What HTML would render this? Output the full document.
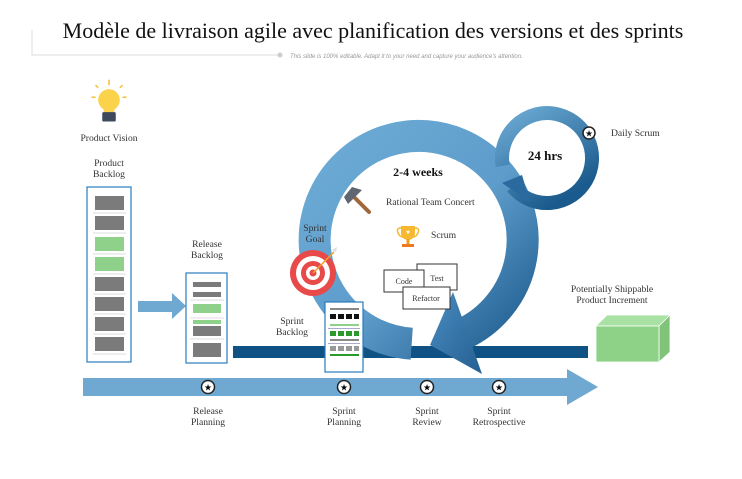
<!DOCTYPE html>
<html><head><meta charset="utf-8"><style>
body{margin:0;background:#fff;}
svg{display:block;}
.s{font-family:"Liberation Serif",serif;fill:#333;font-size:9.6px;text-anchor:middle;}
</style></head><body>
<svg width="742" height="479" viewBox="0 0 742 479" xmlns="http://www.w3.org/2000/svg">
<defs>
<linearGradient id="g1" x1="0" y1="0" x2="1" y2="1"><stop offset="0" stop-color="#6eacd6"/><stop offset="0.55" stop-color="#5d9ccb"/><stop offset="1" stop-color="#1e5c8e"/></linearGradient>
<linearGradient id="g2" x1="0" y1="0" x2="0.6" y2="1"><stop offset="0" stop-color="#6eacd6"/><stop offset="1" stop-color="#1a5a8c"/></linearGradient>
<linearGradient id="g3" x1="0" y1="0" x2="1" y2="1"><stop offset="0" stop-color="#4a8cc0"/><stop offset="1" stop-color="#245f92"/></linearGradient>
</defs>
<text x="373" y="38" font-family="Liberation Serif,serif" font-size="22" text-anchor="middle" fill="#111">Modèle de livraison agile avec planification des versions et des sprints</text>
<polyline points="32,30 32,55 278,55" fill="none" stroke="#ddd" stroke-width="1"/>
<circle cx="280" cy="55" r="2.5" fill="#ccc"/>
<text x="290" y="58" font-family="Liberation Sans,sans-serif" font-size="6" font-style="italic" fill="#999">This slide is 100% editable. Adapt it to your need and capture your audience's attention.</text>

<rect x="233" y="346" width="355" height="12" fill="#0f5283"/>

<path d="M 411.7 343.7 A 104 104 0 1 1 463 334" fill="none" stroke="url(#g1)" stroke-width="32"/>
<polygon points="453,292 482,374 430,345" fill="url(#g3)"/>

<path d="M 502.7 165.8 A 45 45 0 1 1 512.5 186.9" fill="none" stroke="url(#g2)" stroke-width="14"/>
<polygon points="502,183 522,175 530,202" fill="#2a6a9e"/>
<text x="545" y="160" font-family="Liberation Serif,serif" font-size="13" font-weight="bold" text-anchor="middle" fill="#111">24 hrs</text>
<circle cx="589" cy="133" r="6" fill="#fff" stroke="#222" stroke-width="1.5"/>
<text x="589" y="136.5" font-size="9" text-anchor="middle" fill="#111">★</text>
<text x="611" y="136" class="s" style="text-anchor:start">Daily Scrum</text>

<text x="418" y="176" font-family="Liberation Serif,serif" font-size="12" font-weight="bold" text-anchor="middle" fill="#111">2-4 weeks</text>
<g transform="translate(357,200)">
<line x1="-2" y1="-2" x2="12" y2="12" stroke="#a0683a" stroke-width="4" stroke-linecap="round"/>
<polygon points="-13,-3 -5,-13 5,-10 -1,-4 -9,4" fill="#5f6670"/>
</g>
<text x="386" y="205" class="s" style="text-anchor:start">Rational Team Concert</text>
<g transform="translate(408,236)">
<path d="M-7,-10 H7 V-3 A7,7 0 0 1 -7,-3 Z" fill="#f5b82e"/>
<path d="M-7,-8 Q-12,-8 -10,-3 Q-8,1 -5,1 M7,-8 Q12,-8 10,-3 Q8,1 5,1" fill="none" stroke="#f5b82e" stroke-width="1.5"/>
<rect x="-1.5" y="3" width="3" height="5" fill="#f0a020"/>
<rect x="-6" y="8" width="12" height="3" fill="#f07a20"/>
<text x="0" y="-2" font-size="6" text-anchor="middle" fill="#fff">★</text>
</g>
<text x="431" y="238" class="s" style="text-anchor:start">Scrum</text>
<rect x="417" y="264" width="40" height="26" fill="#fff" stroke="#333"/>
<text x="437" y="281" class="s" style="font-size:8px">Test</text>
<rect x="384" y="270" width="40" height="22" fill="#fff" stroke="#333"/>
<text x="404" y="284" class="s" style="font-size:8px">Code</text>
<rect x="403" y="287" width="47" height="22" fill="#fff" stroke="#333"/>
<text x="426" y="301" class="s" style="font-size:8px">Refactor</text>

<text x="315" y="231" class="s">Sprint</text>
<text x="315" y="242" class="s">Goal</text>
<circle cx="313" cy="273" r="23" fill="#e84a4a"/>
<circle cx="313" cy="273" r="17" fill="#fff"/>
<circle cx="313" cy="273" r="12" fill="#e84a4a"/>
<circle cx="313" cy="273" r="7" fill="#fff"/>
<circle cx="313" cy="273" r="3.5" fill="#e84a4a"/>
<line x1="313" y1="273" x2="334" y2="252" stroke="#f2a02e" stroke-width="1.5"/>
<polygon points="332,250 337,247 336,252" fill="#ddd"/>

<g transform="translate(109,104) scale(1.35)">
<line x1="0" y1="-18" x2="0" y2="-14" stroke="#f6c440" stroke-width="1.2"/>
<line x1="-13" y1="-5" x2="-10" y2="-5" stroke="#f6c440" stroke-width="1.2"/>
<line x1="10" y1="-5" x2="13" y2="-5" stroke="#f6c440" stroke-width="1.2"/>
<line x1="-10" y1="-14" x2="-8" y2="-12" stroke="#f6c440" stroke-width="1.2"/>
<line x1="10" y1="-14" x2="8" y2="-12" stroke="#f6c440" stroke-width="1.2"/>
<circle cx="0" cy="-3" r="8" fill="#fbd34a"/>
<rect x="-4" y="3" width="8" height="4" fill="#fbd34a"/>
<rect x="-5" y="6" width="10" height="7" rx="1" fill="#3d4a5c"/>
</g>
<text x="109" y="141" class="s">Product Vision</text>
<text x="109" y="166" class="s">Product</text>
<text x="109" y="177" class="s">Backlog</text>
<rect x="87" y="187" width="44" height="175" fill="#fff" stroke="#2a7bbf" stroke-width="1.2"/>
<g fill="#7b7b7b">
<rect x="95" y="196" width="29" height="14"/><rect x="95" y="216" width="29" height="14"/>
<rect x="95" y="237" width="29" height="14" fill="#8fd18a"/><rect x="95" y="257" width="29" height="14" fill="#8fd18a"/>
<rect x="95" y="277" width="29" height="14"/><rect x="95" y="297" width="29" height="14"/>
<rect x="95" y="317" width="29" height="14"/><rect x="95" y="337" width="29" height="14"/>
</g>
<g stroke="#ddd" stroke-width="1">
<line x1="93" y1="213" x2="126" y2="213"/><line x1="93" y1="233" x2="126" y2="233"/><line x1="93" y1="254" x2="126" y2="254"/><line x1="93" y1="274" x2="126" y2="274"/><line x1="93" y1="294" x2="126" y2="294"/><line x1="93" y1="314" x2="126" y2="314"/><line x1="93" y1="334" x2="126" y2="334"/><line x1="93" y1="354" x2="126" y2="354"/>
</g>
<polygon points="138,301 172,301 172,293 186,306 172,319 172,312 138,312" fill="#6fa8d0"/>
<text x="207" y="247" class="s">Release</text>
<text x="207" y="258" class="s">Backlog</text>
<rect x="186" y="273" width="41" height="90" fill="#fff" stroke="#2a7bbf" stroke-width="1.2"/>
<g fill="#7b7b7b">
<rect x="193" y="282" width="28" height="5"/><rect x="193" y="292" width="28" height="5"/>
<rect x="193" y="304" width="28" height="9" fill="#8fd18a"/><rect x="193" y="320" width="28" height="4" fill="#8fd18a"/>
<rect x="193" y="326" width="28" height="10"/><rect x="193" y="343" width="28" height="14"/>
</g>
<g stroke="#ddd"><line x1="190" y1="300" x2="224" y2="300"/><line x1="190" y1="318" x2="224" y2="318"/><line x1="190" y1="339" x2="224" y2="339"/></g>
<text x="292" y="324" class="s">Sprint</text>
<text x="292" y="335" class="s">Backlog</text>
<rect x="325" y="302" width="38" height="70" fill="#fff" stroke="#2a7bbf" stroke-width="1.2"/>
<rect x="330" y="308" width="29" height="2" fill="#888"/>
<g fill="#111"><rect x="330" y="314" width="6" height="5"/><rect x="338" y="314" width="6" height="5"/><rect x="346" y="314" width="6" height="5"/><rect x="354" y="314" width="5" height="5"/></g>
<rect x="330" y="324" width="29" height="2" fill="#8fd18a"/>
<rect x="328" y="328" width="32" height="1" fill="#aac"/>
<g fill="#2a9a2a"><rect x="330" y="331" width="6" height="5"/><rect x="338" y="331" width="6" height="5"/><rect x="346" y="331" width="6" height="5"/><rect x="354" y="331" width="5" height="5"/></g>
<rect x="330" y="339" width="29" height="2" fill="#888"/>
<rect x="328" y="343" width="32" height="1" fill="#aac"/>
<g fill="#999"><rect x="330" y="346" width="6" height="5"/><rect x="338" y="346" width="6" height="5"/><rect x="346" y="346" width="6" height="5"/><rect x="354" y="346" width="5" height="5"/></g>
<rect x="330" y="354" width="29" height="2" fill="#2a9a2a"/>

<text x="612" y="292" class="s">Potentially Shippable</text>
<text x="612" y="303" class="s">Product Increment</text>
<polygon points="596,326 607,315 670,315 659,326" fill="#a9e0a3" stroke="#fff" stroke-width="0.8"/>
<polygon points="659,326 670,315 670,352 659,362" fill="#7fc478" stroke="#fff" stroke-width="0.8"/>
<rect x="596" y="326" width="63" height="36" fill="#8ed287" stroke="#fff" stroke-width="0.8"/>

<polygon points="83,378 567,378 567,369 598,387 567,405 567,396 83,396" fill="#6fa8d0"/>
<g>
<circle cx="208" cy="387" r="6.5" fill="#fff" stroke="#222" stroke-width="1.5"/><text x="208" y="390.5" font-size="9" text-anchor="middle">★</text>
<circle cx="344" cy="387" r="6.5" fill="#fff" stroke="#222" stroke-width="1.5"/><text x="344" y="390.5" font-size="9" text-anchor="middle">★</text>
<circle cx="427" cy="387" r="6.5" fill="#fff" stroke="#222" stroke-width="1.5"/><text x="427" y="390.5" font-size="9" text-anchor="middle">★</text>
<circle cx="499" cy="387" r="6.5" fill="#fff" stroke="#222" stroke-width="1.5"/><text x="499" y="390.5" font-size="9" text-anchor="middle">★</text>
</g>
<text x="208" y="414" class="s">Release</text><text x="208" y="425" class="s">Planning</text>
<text x="344" y="414" class="s">Sprint</text><text x="344" y="425" class="s">Planning</text>
<text x="427" y="414" class="s">Sprint</text><text x="427" y="425" class="s">Review</text>
<text x="499" y="414" class="s">Sprint</text><text x="499" y="425" class="s">Retrospective</text>
</svg>
</body></html>
